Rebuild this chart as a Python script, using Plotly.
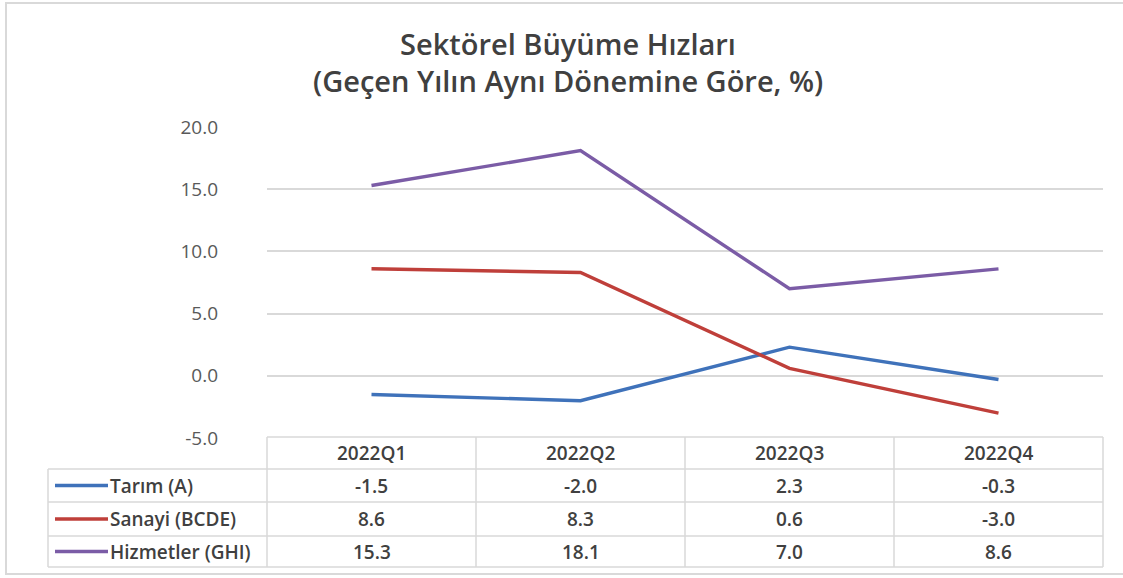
import plotly.graph_objects as go

# ---- data ----
quarters = ["2022Q1", "2022Q2", "2022Q3", "2022Q4"]
series_names = ["Tarım (A)", "Sanayi (BCDE)", "Hizmetler (GHI)"]
tarim = [-1.5, -2.0, 2.3, -0.3]
sanayi = [8.6, 8.3, 0.6, -3.0]
hizmetler = [15.3, 18.1, 7.0, 8.6]
y_ticks = [-5, 0, 5, 10, 15, 20]
title_lines = ["Sektörel Büyüme Hızları", "(Geçen Yılın Aynı Dönemine Göre, %)"]

# ---- style ----
W, H = 1123, 578
PL, PR, PT, PB = 267, 1103, 127, 438   # plot area in pixels
colors = ["#3F72BA", "#BF3F3A", "#7B5CA6"]
FONT = "Open Sans"
TXT = "#404040"
GRID = "#D9D9D9"

def px(x):
    return (x - PL) / (PR - PL)

def py(y):
    return (PB - y) / (PB - PT)

fig = go.Figure()
all_series = [tarim, sanayi, hizmetler]
for name, vals, c in zip(series_names, all_series, colors):
    fig.add_trace(go.Scatter(
        x=list(range(len(quarters))), y=vals, mode="lines", name=name,
        line=dict(color=c, width=3.4), showlegend=False,
    ))

shapes = []
annotations = []

# outer frame
shapes.append(dict(type="rect", xref="paper", yref="paper",
                   x0=px(6), x1=px(1130), y0=py(574), y1=py(3),
                   line=dict(color=GRID, width=2), layer="below"))

# table geometry
row_lines = [437, 469, 502, 536, 567]
label_left = 48
shapes.append(dict(type="line", xref="paper", yref="paper",
                   x0=0, x1=1, y0=py(row_lines[0]), y1=py(row_lines[0]),
                   line=dict(color=GRID, width=1.5)))
for yl in row_lines[1:]:
    shapes.append(dict(type="line", xref="paper", yref="paper",
                       x0=px(label_left), x1=1, y0=py(yl), y1=py(yl),
                       line=dict(color=GRID, width=1.5)))
shapes.append(dict(type="line", xref="paper", yref="paper",
                   x0=px(label_left), x1=px(label_left),
                   y0=py(row_lines[1]), y1=py(row_lines[-1]),
                   line=dict(color=GRID, width=1.5)))
n = len(quarters)
for i in range(n + 1):
    xx = i / n
    shapes.append(dict(type="line", xref="paper", yref="paper",
                       x0=xx, x1=xx, y0=py(row_lines[0]), y1=py(row_lines[-1]),
                       line=dict(color=GRID, width=1.5)))

row_centers = [(row_lines[i] + row_lines[i + 1]) / 2 for i in range(len(row_lines) - 1)]
TFONT = dict(family=FONT, size=19, color=TXT, weight=600)

for i, q in enumerate(quarters):
    annotations.append(dict(x=i, xref="x", y=py(row_centers[0]), yref="paper",
                            text=q, showarrow=False, xanchor="center", yanchor="middle",
                            font=TFONT))
for r, (name, vals, c) in enumerate(zip(series_names, all_series, colors)):
    yc = py(row_centers[r + 1])
    shapes.append(dict(type="line", xref="paper", yref="paper",
                       x0=px(55), x1=px(108), y0=yc, y1=yc,
                       line=dict(color=c, width=3.4)))
    annotations.append(dict(x=px(108), xref="paper", y=yc, yref="paper",
                            text=name, showarrow=False, xanchor="left", yanchor="middle",
                            font=TFONT))
    for i, v in enumerate(vals):
        annotations.append(dict(x=i, xref="x", y=yc, yref="paper",
                                text=f"{v:.1f}", showarrow=False, xanchor="center",
                                yanchor="middle", font=TFONT))

for line_text, yc in zip(title_lines, [43, 81]):
    annotations.append(dict(x=px(568), xref="paper", y=py(yc), yref="paper",
                            text=line_text, showarrow=False, xanchor="center",
                            yanchor="middle",
                            font=dict(family=FONT, size=29, color=TXT, weight=600)))

fig.update_layout(
    width=W, height=H,
    margin=dict(l=PL, r=W - PR, t=PT, b=H - PB),
    paper_bgcolor="white", plot_bgcolor="white",
    shapes=shapes, annotations=annotations,
    xaxis=dict(range=[-0.5, n - 0.5], showgrid=False, showticklabels=False,
               zeroline=False, showline=False, fixedrange=True),
    yaxis=dict(range=[-5, 20], tickvals=y_ticks,
               ticktext=[f"{v:.1f}" for v in y_ticks],
               showgrid=True, gridcolor=GRID, gridwidth=1.5,
               zeroline=False, showline=False,
               tickfont=dict(family=FONT, size=19, color="#595959"),
               ticklabelstandoff=48, fixedrange=True),
)

fig.write_html("out.html", config={"displayModeBar": False},
               post_script="document.body.style.margin='0';document.body.style.overflow='hidden';")
